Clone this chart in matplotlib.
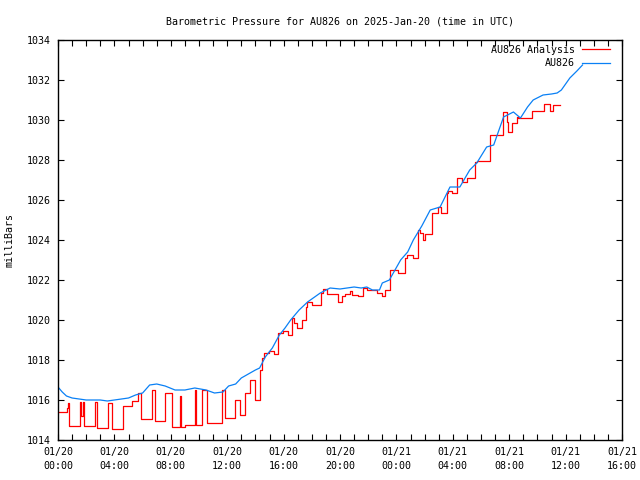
import matplotlib
matplotlib.use("Agg")
import matplotlib.pyplot as plt
from matplotlib.ticker import MultipleLocator

# hours since 2025-01-20 00:00 UTC
blue_t = [0, 0.3, 0.6, 1.0, 1.5, 2.0, 3.0, 3.5, 4.0, 4.5,
          5.0, 5.5, 6.0, 6.5, 7.0, 7.6, 8.3, 9.0, 9.7, 10.5,
          11.1, 11.7, 12.1, 12.6, 13.0, 13.5, 14.0, 14.3, 14.7, 15.2,
          15.7, 16.1, 16.5, 17.1, 17.7, 18.2, 18.6, 19.3, 20.0, 20.5,
          21.0, 21.5, 21.9, 22.3, 22.8, 23.0, 23.5, 24.3, 24.8, 25.2,
          25.8, 26.4, 27.1, 27.8, 28.5, 29.2, 29.7, 30.4, 30.9, 31.6,
          32.3, 32.8, 33.3, 33.7, 34.4, 35.0, 35.4, 35.7, 36.3, 36.8,
          37.2]
blue_p = [1016.65, 1016.4, 1016.2, 1016.1, 1016.05, 1016.0, 1016.0, 1015.95, 1016.0, 1016.05,
          1016.1, 1016.25, 1016.35, 1016.75, 1016.8, 1016.7, 1016.5, 1016.5, 1016.6, 1016.5,
          1016.35, 1016.4, 1016.7, 1016.8, 1017.1, 1017.3, 1017.5, 1017.6, 1018.15, 1018.6,
          1019.25, 1019.6, 1020.0, 1020.5, 1020.9, 1021.15, 1021.35, 1021.6, 1021.55, 1021.6,
          1021.65, 1021.6, 1021.65, 1021.5, 1021.5, 1021.85, 1022.0, 1023.0, 1023.4, 1024.0,
          1024.7, 1025.5, 1025.65, 1026.65, 1026.65, 1027.5, 1027.85, 1028.65, 1028.75, 1030.15,
          1030.4, 1030.1, 1030.65, 1031.0, 1031.25, 1031.3, 1031.35, 1031.5, 1032.1, 1032.45,
          1032.75]

red_t = [0.0, 0.64, 0.7, 0.78, 1.56, 1.65, 1.75, 1.85, 2.62, 2.77,
         3.55, 3.83, 4.6, 5.25, 5.67, 5.9, 6.67, 6.9, 7.6, 8.1,
         8.65, 8.72, 9.0, 9.7, 9.8, 10.2, 10.6, 11.6, 11.85, 12.55,
         12.9, 13.25, 13.6, 13.97, 14.3, 14.45, 14.6, 14.96, 15.32, 15.6,
         15.96, 16.31, 16.6, 16.74, 16.95, 17.3, 17.59, 17.66, 18.01, 18.65,
         18.79, 19.08, 19.86, 20.14, 20.35, 20.71, 20.85, 21.28, 21.63, 21.91,
         22.62, 22.98, 23.19, 23.55, 24.1, 24.6, 24.75, 25.18, 25.53, 25.67,
         25.9, 26.03, 26.52, 26.95, 27.16, 27.6, 27.66, 27.94, 28.3, 28.65,
         29.0, 29.57, 29.72, 30.64, 31.56, 31.84, 31.9, 32.2, 32.55, 32.62,
         33.6, 34.5, 34.9, 35.1, 35.6]
red_p = [1015.4, 1015.6, 1015.85, 1014.7, 1015.9, 1015.2, 1015.9, 1014.7, 1015.9, 1014.6,
         1015.85, 1014.55, 1015.7, 1015.95, 1016.35, 1015.05, 1016.5, 1014.95, 1016.35, 1014.65,
         1016.2, 1014.65, 1014.75, 1016.5, 1014.75, 1016.5, 1014.85, 1016.5, 1015.1, 1016.0,
         1015.25, 1016.35, 1017.0, 1016.0, 1017.5, 1018.1, 1018.35, 1018.45, 1018.3, 1019.35,
         1019.45, 1019.25, 1020.1, 1019.85, 1019.6, 1020.0, 1020.65, 1020.9, 1020.75, 1021.35,
         1021.55, 1021.3, 1020.9, 1021.2, 1021.3, 1021.45, 1021.25, 1021.2, 1021.6, 1021.5,
         1021.35, 1021.2, 1021.5, 1022.5, 1022.35, 1023.1, 1023.25, 1023.1, 1024.5, 1024.35,
         1024.0, 1024.3, 1025.35, 1025.65, 1025.35, 1026.35, 1026.45, 1026.35, 1027.1, 1026.9,
         1027.1, 1027.9, 1027.95, 1029.25, 1030.4, 1029.9, 1029.4, 1029.85, 1030.15, 1030.1,
         1030.45, 1030.8, 1030.45, 1030.75, 1030.75]

tick_hours = list(range(0, 41, 4))
tick_labels = ["01/20\n00:00", "01/20\n04:00", "01/20\n08:00", "01/20\n12:00",
               "01/20\n16:00", "01/20\n20:00", "01/21\n00:00", "01/21\n04:00",
               "01/21\n08:00", "01/21\n12:00", "01/21\n16:00"]

plt.rcParams['font.family'] = ['DejaVu Sans Mono']
plt.rcParams['font.size'] = 7.2

fig = plt.figure(figsize=(6.4, 4.8), dpi=100)
ax = fig.add_axes([58/640, 40/480, 564/640, 400/480])

ax.step(red_t, red_p, where='post', color='#ff0000', lw=0.9, label='AU826 Analysis')
ax.plot(blue_t, blue_p, color='#0a80f5', lw=0.9, label='AU826')

ax.set_xlim(0, 40)
ax.set_ylim(1014, 1034)
ax.set_yticks(range(1014, 1035, 2))
ax.set_xticks(tick_hours)
ax.set_xticklabels(tick_labels, linespacing=1.45)
ax.xaxis.set_minor_locator(MultipleLocator(1))
ax.tick_params(direction='in', top=True, right=True, which='both', length=4, width=0.8, pad=5)
ax.set_ylabel('milliBars', labelpad=9)
ax.set_title('Barometric Pressure for AU826 on 2025-Jan-20 (time in UTC)', fontsize=7.2, pad=11)
for s in ax.spines.values():
    s.set_linewidth(1.0)

ax.legend(loc='upper right', bbox_to_anchor=(0.986, 0.998), borderaxespad=0,
          frameon=False, markerfirst=False, handlelength=2.8,
          labelspacing=0.35, handletextpad=0.7)

fig.savefig('out.png', dpi=100)
